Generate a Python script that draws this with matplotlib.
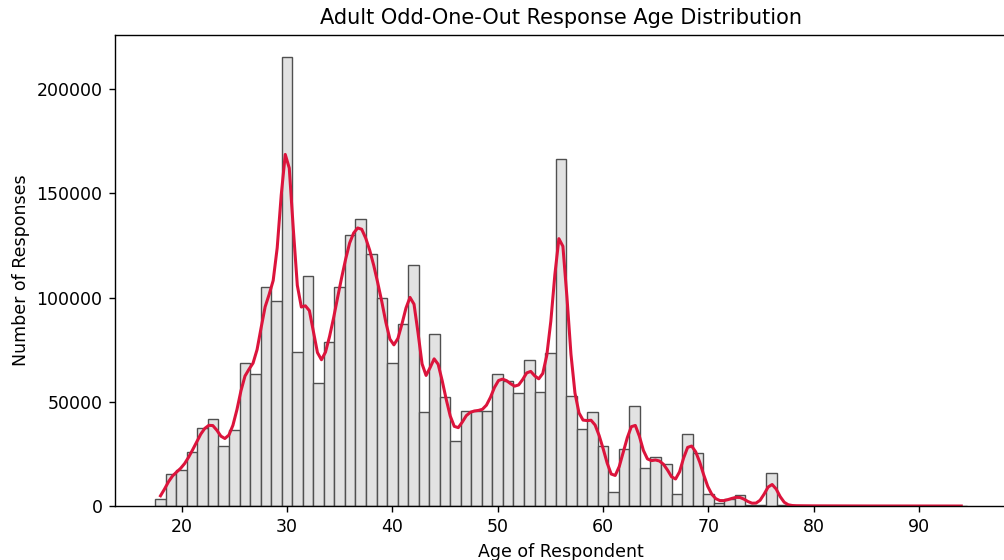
"""Age distribution of adult odd-one-out responses: histogram with a KDE overlay."""
import matplotlib

matplotlib.use("Agg")
import matplotlib.pyplot as plt
import numpy as np

# responses per year of age (18..94)
ages = np.arange(18, 95)
counts = [
    3400, 15200, 17400, 26000, 37200, 41500, 28600, 36600, 68500, 63400,   # 18-27
    105000, 98300, 215300, 73900, 110400, 59200, 78900, 105000, 130100, 137600,  # 28-37
    121000, 99600, 68500, 87500, 115400, 45200, 82400, 52300, 31000, 45700,  # 38-47
    45700, 45700, 63500, 59900, 54300, 70100, 54900, 73300, 166300, 53000,  # 48-57
    37100, 45000, 28600, 6500, 27300, 48000, 18200, 23600, 20000, 5900,    # 58-67
    34600, 25500, 5900, 1600, 3200, 5300, 700, 700, 15800, 300,            # 68-77
    150, 100, 80, 60, 50, 40, 30, 25, 20, 15, 12, 10, 8, 6, 5, 4, 3,       # 78-94
]

BAR_FACE = "#e2e2e2"
BAR_EDGE = "#505050"
KDE_COLOR = "crimson"


def weighted_kde(values, weights, grid):
    # Gaussian KDE with Scott's rule, bandwidth from the full sample size
    w = np.asarray(weights, dtype=float)
    n = w.sum()
    mean = np.sum(values * w) / n
    std = np.sqrt(np.sum(w * (values - mean) ** 2) / (n - 1))
    bw = std * n ** (-1 / 5)
    z = (grid[:, None] - values[None, :]) / bw
    dens = np.sum(w[None, :] * np.exp(-0.5 * z ** 2), axis=1) / (n * bw * np.sqrt(2 * np.pi))
    return dens


def main() -> None:
    vals = np.asarray(ages, dtype=float)
    w = np.asarray(counts, dtype=float)

    fig = plt.figure(figsize=(8.04, 4.48), dpi=125)
    ax = fig.add_axes([0.1141, 0.0964, 0.888, 0.8416])

    ax.bar(vals, w, width=1.0, color=BAR_FACE,
           edgecolor=BAR_EDGE, linewidth=0.8)

    grid = np.linspace(vals.min(), vals.max(), 200)
    kde = weighted_kde(vals, w, grid) * w.sum() * 1.0  # scale density to counts per 1-year bin
    ax.plot(grid, kde, color=KDE_COLOR, linewidth=1.75)

    ax.set_xlim(13.65, 98.35)
    ax.set_ylim(0, max(counts) * 1.05)
    ax.set_xticks(np.arange(20, 100, 10))

    ax.set_title("Adult Odd-One-Out Response Age Distribution")
    ax.set_xlabel("Age of Respondent")
    ax.set_ylabel("Number of Responses")

    fig.savefig("out.png", dpi=125)
    plt.close(fig)


if __name__ == "__main__":
    main()
